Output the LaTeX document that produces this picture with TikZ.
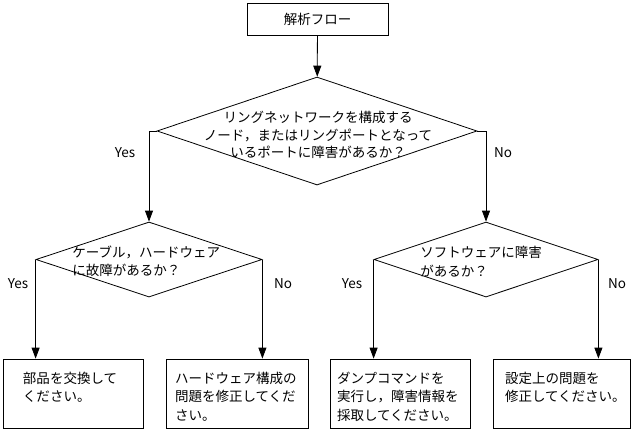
\documentclass[tikz,border=0pt]{standalone}
\usepackage{fontspec}
\setmainfont{Noto Sans CJK JP}
\usetikzlibrary{shapes.geometric,arrows.meta}
\begin{document}
\begin{tikzpicture}[x=1pt,y=-1pt,line width=.8pt,
    font=\fontsize{13.5}{18.5}\selectfont,
    arr/.style={-{Triangle[length=11pt,width=8pt]}},
    choice/.style={draw,diamond,inner sep=0pt,minimum height=75},
    act/.style={draw,align=left,inner sep=0pt,text height=24pt,text depth=45pt}]
  \useasboundingbox (0,0) rectangle (637,432);
  \node[draw,minimum width=141,minimum height=32] (start) at (317.5,19) {解析フロー};
  % first question
  \node[choice,minimum width=320,minimum height=108] (q1) at (317,131) {};
  \node[align=center,inner sep=0pt,font=\fontsize{13.5}{17.7}\selectfont] (q1txt) at (318,135)
    {リングネットワークを構成する\\ノード，またはリングポートとなって\\いるポートに障害があるか？};
  \node (yes1) at (125,153) {Yes};
  \node (no1) at (503,153) {No};
  % second level
  \node[choice,minimum width=226] (q2) at (149,259.5) {};
  \node[align=left,inner sep=0pt,anchor=west] (q2txt) at (72,261.5) {ケーブル，ハードウェア\\に故障があるか？};
  \node[choice,minimum width=224] (q3) at (486,259.5) {};
  \node[align=left,inner sep=0pt,anchor=west] (q3txt) at (420,261.5) {ソフトウェアに障害\\があるか？};
  \node (yes2) at (18,284) {Yes};
  \node (no2) at (283,284) {No};
  \node (yes3) at (352,284) {Yes};
  \node (no3) at (617,284) {No};
  % answers
  \node[act,minimum width=140,text width=100] (swap) at (73,393.5) {部品を交換して\\ください。};
  \node[act,minimum width=142,text width=124] (hwfix) at (237,393.5) {ハードウェア構成の\\問題を修正してくだ\\さい。};
  \node[act,minimum width=140,text width=126] (dump) at (400,393.5) {ダンプコマンドを\\実行し，障害情報を\\採取してください。};
  \node[act,minimum width=137,text width=113] (setfix) at (561.5,393.5) {設定上の問題を\\修正してください。};
  \draw[arr] (start) -- (q1);
  \draw[arr] (q1.west) -| (q2.north);
  \draw[arr] (q1.east) -| (q3.north);
  \draw[arr] (q2.west) -- (q2.west |- swap.north);
  \draw[arr] (q2.east) -- (q2.east |- hwfix.north);
  \draw[arr] (q3.west) -- (q3.west |- dump.north);
  \draw[arr] (q3.east) -- (q3.east |- setfix.north);
\end{tikzpicture}
\end{document}
